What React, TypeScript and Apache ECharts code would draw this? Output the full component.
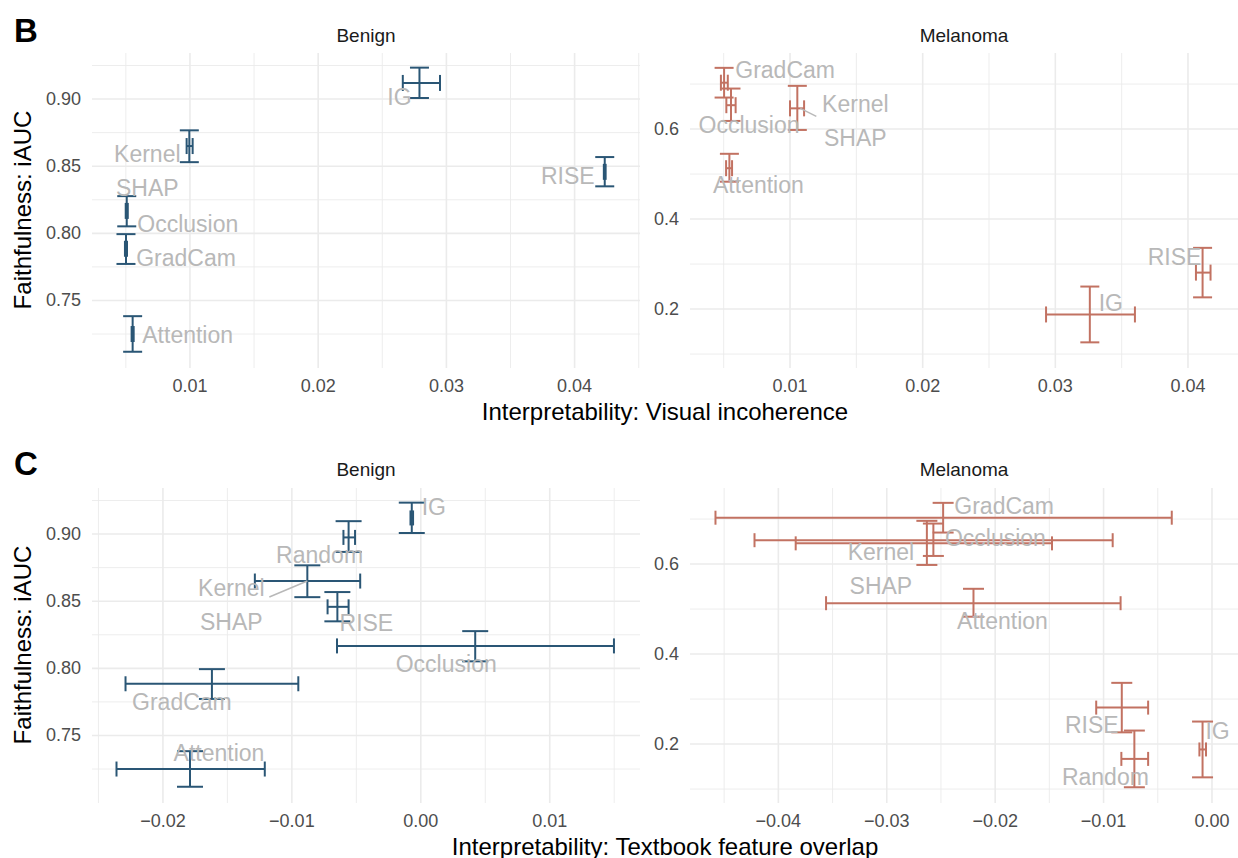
import React, { useEffect, useRef } from "react";
import * as echarts from "echarts";

const FONT = '"Liberation Sans", Arial, Helvetica, sans-serif';

const methods = ["Attention", "GradCam", "IG", "Kernel SHAP", "Occlusion", "RISE", "Random"];

// Faithfulness (iAUC): mean and interval bounds per class
const benignFaith = [0.725, 0.7885, 0.912, 0.865, 0.8167, 0.8458, 0.8975];
const benignFaithLo = [0.7118, 0.7772, 0.9008, 0.853, 0.8052, 0.835, 0.8867];
const benignFaithHi = [0.7383, 0.7994, 0.9234, 0.8767, 0.8277, 0.8568, 0.9096];
const melanomaFaith = [0.513, 0.703, 0.188, 0.646, 0.653, 0.281, 0.167];
const melanomaFaithLo = [0.483, 0.67, 0.126, 0.598, 0.618, 0.226, 0.104];
const melanomaFaithHi = [0.545, 0.736, 0.25, 0.696, 0.69, 0.336, 0.23];

// Interpretability: visual incoherence (not computed for Random)
const benignIncoh = [0.00553, 0.00501, 0.0279, 0.00995, 0.00507, 0.04235, null];
const benignIncohLo = [0.00545, 0.00493, 0.0266, 0.00974, 0.00499, 0.04228, null];
const benignIncohHi = [0.00561, 0.00509, 0.0295, 0.01021, 0.00515, 0.04242, null];
const melanomaIncoh = [0.00543, 0.00503, 0.0326, 0.01055, 0.00555, 0.0411, null];
const melanomaIncohLo = [0.00518, 0.00479, 0.0293, 0.01, 0.0052, 0.0406, null];
const melanomaIncohHi = [0.00563, 0.00531, 0.036, 0.01106, 0.0059, 0.0417, null];

// Interpretability: textbook feature overlap
const benignOverlap = [-0.0179, -0.0162, -0.0007, -0.0088, 0.00422, -0.00647, -0.0056];
const benignOverlapLo = [-0.0236, -0.0229, -0.0008, -0.01287, -0.0065, -0.00723, -0.006];
const benignOverlapHi = [-0.0121, -0.0095, -0.0006, -0.0047, 0.01498, -0.0056, -0.0051];
const melanomaOverlap = [-0.022, -0.0248, -0.00087, -0.0263, -0.0257, -0.00832, -0.00716];
const melanomaOverlapLo = [-0.0356, -0.0458, -0.00116, -0.0384, -0.0422, -0.01068, -0.00836];
const melanomaOverlapHi = [-0.00843, -0.00371, -0.00055, -0.01476, -0.00916, -0.00589, -0.00589];

// Axis ticks (labelled) and minor grid values
const incoherenceTicks = [0.01, 0.02, 0.03, 0.04];
const incoherenceMinor = [0.005, 0.015, 0.025, 0.035, 0.045];
const overlapBenignTicks = [-0.02, -0.01, 0, 0.01];
const overlapBenignMinor = [-0.025, -0.015, -0.005, 0.005, 0.015];
const overlapMelanomaTicks = [-0.04, -0.03, -0.02, -0.01, 0];
const overlapMelanomaMinor = [-0.045, -0.035, -0.025, -0.015, -0.005];
const benignFaithTicks = [0.75, 0.8, 0.85, 0.9];
const benignFaithMinor = [0.725, 0.775, 0.825, 0.875, 0.925];
const melanomaFaithTicks = [0.2, 0.4, 0.6];
const melanomaFaithMinor = [0.1, 0.3, 0.5, 0.7];

// Repelled label placement: pixel offset of the label centre from its point,
// plus an optional leader segment [dx1, dy1, dx2, dy2]
type LabelPlace = { dx: number; dy: number; seg?: number[] };
const incohBenignLabels: Record<string, LabelPlace> = {
  IG: { dx: -20, dy: 14 },
  "Kernel SHAP": { dx: -42, dy: 25 },
  RISE: { dx: -37, dy: 4 },
  Occlusion: { dx: 61, dy: 13 },
  GradCam: { dx: 60, dy: 9 },
  Attention: { dx: 55, dy: 1 },
};
const incohMelanomaLabels: Record<string, LabelPlace> = {
  GradCam: { dx: 61, dy: -13 },
  Occlusion: { dx: 18, dy: 20 },
  "Kernel SHAP": { dx: 58, dy: 13, seg: [3, 0, 19, 8] },
  Attention: { dx: 29, dy: 17 },
  IG: { dx: 21, dy: -11 },
  RISE: { dx: -28, dy: -16 },
};
const overlapBenignLabels: Record<string, LabelPlace> = {
  IG: { dx: 22, dy: -11 },
  Random: { dx: -29, dy: 18 },
  "Kernel SHAP": { dx: -76, dy: 24, seg: [0, 0, -38, 16] },
  RISE: { dx: 29, dy: 16 },
  Occlusion: { dx: -29, dy: 18 },
  GradCam: { dx: -30, dy: 18 },
  Attention: { dx: 29, dy: -16 },
};
const overlapMelanomaLabels: Record<string, LabelPlace> = {
  GradCam: { dx: 61, dy: -12 },
  Occlusion: { dx: 62, dy: -2 },
  "Kernel SHAP": { dx: -46, dy: 26 },
  Attention: { dx: 29, dy: 18 },
  RISE: { dx: -30, dy: 17 },
  Random: { dx: -29, dy: 18 },
  IG: { dx: 15, dy: -18 },
};

const BENIGN = "#2A5675";
const MELANOMA = "#C27262";
const LABEL_GREY = "#B8B8B8";
const GRID = "#EBEBEB";

const PANEL_W = 548;
const PANEL_H = 315;

type Panel = {
  left: number;
  top: number;
  xLim: number[];
  yLim: number[];
  xTicks: number[];
  xMinor: number[];
  yTicks: number[];
  yMinor: number[];
  xDigits: number;
  yDigits: number;
  x: (number | null)[];
  xLo: (number | null)[];
  xHi: (number | null)[];
  y: number[];
  yLo: number[];
  yHi: number[];
  color: string;
  labels: Record<string, LabelPlace>;
  capW: number;
  capH: number;
};

const panels: Panel[] = [
  {
    left: 92, top: 53, xLim: [0.00236, 0.0451], yLim: [0.6997, 0.9343],
    xTicks: incoherenceTicks, xMinor: incoherenceMinor, yTicks: benignFaithTicks, yMinor: benignFaithMinor,
    xDigits: 2, yDigits: 2,
    x: benignIncoh, xLo: benignIncohLo, xHi: benignIncohHi,
    y: benignFaith, yLo: benignFaithLo, yHi: benignFaithHi,
    color: BENIGN, labels: incohBenignLabels, capW: 19, capH: 16,
  },
  {
    left: 690, top: 53, xLim: [0.00246, 0.04377], yLim: [0.069, 0.769],
    xTicks: incoherenceTicks, xMinor: incoherenceMinor, yTicks: melanomaFaithTicks, yMinor: melanomaFaithMinor,
    xDigits: 2, yDigits: 1,
    x: melanomaIncoh, xLo: melanomaIncohLo, xHi: melanomaIncohHi,
    y: melanomaFaith, yLo: melanomaFaithLo, yHi: melanomaFaithHi,
    color: MELANOMA, labels: incohMelanomaLabels, capW: 19, capH: 16,
  },
  {
    left: 92, top: 488, xLim: [-0.0255, 0.017], yLim: [0.6997, 0.9343],
    xTicks: overlapBenignTicks, xMinor: overlapBenignMinor, yTicks: benignFaithTicks, yMinor: benignFaithMinor,
    xDigits: 2, yDigits: 2,
    x: benignOverlap, xLo: benignOverlapLo, xHi: benignOverlapHi,
    y: benignFaith, yLo: benignFaithLo, yHi: benignFaithHi,
    color: BENIGN, labels: overlapBenignLabels, capW: 26, capH: 15,
  },
  {
    left: 690, top: 488, xLim: [-0.04815, 0.0024], yLim: [0.069, 0.769],
    xTicks: overlapMelanomaTicks, xMinor: overlapMelanomaMinor, yTicks: melanomaFaithTicks, yMinor: melanomaFaithMinor,
    xDigits: 2, yDigits: 1,
    x: melanomaOverlap, xLo: melanomaOverlapLo, xHi: melanomaOverlapHi,
    y: melanomaFaith, yLo: melanomaFaithLo, yHi: melanomaFaithHi,
    color: MELANOMA, labels: overlapMelanomaLabels, capW: 21, capH: 14,
  },
];

function fmt(v: number, digits: number): string {
  const s = Math.abs(v).toFixed(digits);
  return v < -1e-12 ? "\u2212" + s : s;
}

function buildOption() {
  const grid: any[] = [];
  const xAxis: any[] = [];
  const yAxis: any[] = [];
  const series: any[] = [];

  panels.forEach((p, i) => {
    grid.push({ left: p.left, top: p.top, width: PANEL_W, height: PANEL_H });
    const labelStyle = { color: "#4D4D4D", fontSize: 18, fontFamily: FONT };
    xAxis.push({
      type: "value", gridIndex: i, min: p.xLim[0], max: p.xLim[1],
      axisLine: { show: false }, axisTick: { show: false }, splitLine: { show: false },
      axisLabel: { ...labelStyle, margin: 9, customValues: p.xTicks, formatter: (v: number) => fmt(v, p.xDigits) },
    });
    yAxis.push({
      type: "value", gridIndex: i, min: p.yLim[0], max: p.yLim[1],
      axisLine: { show: false }, axisTick: { show: false }, splitLine: { show: false },
      axisLabel: { ...labelStyle, margin: 11, customValues: p.yTicks, formatter: (v: number) => fmt(v, p.yDigits) },
    });

    // background grid lines
    const lines: { dir: string; v: number; major: boolean }[] = [];
    const inX = (v: number) => v >= p.xLim[0] && v <= p.xLim[1];
    const inY = (v: number) => v >= p.yLim[0] && v <= p.yLim[1];
    p.xMinor.filter(inX).forEach((v) => lines.push({ dir: "x", v, major: false }));
    p.yMinor.filter(inY).forEach((v) => lines.push({ dir: "y", v, major: false }));
    p.xTicks.filter(inX).forEach((v) => lines.push({ dir: "x", v, major: true }));
    p.yTicks.filter(inY).forEach((v) => lines.push({ dir: "y", v, major: true }));
    series.push({
      type: "custom", xAxisIndex: i, yAxisIndex: i, z: 1, silent: true,
      data: lines.map(() => [p.xLim[0], p.yLim[0]]),
      renderItem: (params: any, api: any) => {
        const g = lines[params.dataIndex];
        const cs = params.coordSys;
        const style = { stroke: GRID, lineWidth: g.major ? 1.6 : 0.9 };
        if (g.dir === "x") {
          const px = api.coord([g.v, p.yLim[0]])[0];
          return { type: "line", shape: { x1: px, y1: cs.y, x2: px, y2: cs.y + cs.height }, style };
        }
        const py = api.coord([p.xLim[0], g.v])[1];
        return { type: "line", shape: { x1: cs.x, y1: py, x2: cs.x + cs.width, y2: py }, style };
      },
    });

    // points with both interval bars
    const pts: number[][] = [];
    methods.forEach((m, k) => {
      const x = p.x[k];
      if (x === null || x === undefined) return;
      pts.push([x, p.y[k], p.xLo[k] as number, p.xHi[k] as number, p.yLo[k], p.yHi[k], k]);
    });
    series.push({
      type: "custom", xAxisIndex: i, yAxisIndex: i, z: 2, silent: true,
      data: pts,
      renderItem: (params: any, api: any) => {
        const x = api.value(0), y = api.value(1);
        const c = api.coord([x, y]);
        const l = api.coord([api.value(2), y]);
        const r = api.coord([api.value(3), y]);
        const b = api.coord([x, api.value(4)]);
        const t = api.coord([x, api.value(5)]);
        const st = { stroke: p.color, lineWidth: 2 };
        const hw = p.capW / 2, hh = p.capH / 2;
        const seg = (x1: number, y1: number, x2: number, y2: number) => ({
          type: "line", shape: { x1, y1, x2, y2 }, style: st,
        });
        return {
          type: "group",
          children: [
            seg(l[0], c[1], r[0], c[1]),
            seg(l[0], c[1] - hh, l[0], c[1] + hh),
            seg(r[0], c[1] - hh, r[0], c[1] + hh),
            seg(c[0], t[1], c[0], b[1]),
            seg(c[0] - hw, t[1], c[0] + hw, t[1]),
            seg(c[0] - hw, b[1], c[0] + hw, b[1]),
          ],
        };
      },
    });

    // method labels
    series.push({
      type: "custom", xAxisIndex: i, yAxisIndex: i, z: 3, silent: true,
      data: pts,
      renderItem: (params: any, api: any) => {
        const c = api.coord([api.value(0), api.value(1)]);
        const name = methods[api.value(6)];
        const place = p.labels[name] || { dx: 0, dy: 0 };
        const children: any[] = [];
        if (place.seg) {
          const s = place.seg;
          children.push({
            type: "line",
            shape: { x1: c[0] + s[0], y1: c[1] + s[1], x2: c[0] + s[2], y2: c[1] + s[3] },
            style: { stroke: LABEL_GREY, lineWidth: 1.5 },
          });
        }
        children.push({
          type: "text",
          x: c[0] + place.dx,
          y: c[1] + place.dy,
          style: {
            text: name.replace(" ", "\n"),
            fill: LABEL_GREY,
            fontSize: 23,
            fontFamily: FONT,
            align: "center",
            verticalAlign: "middle",
            lineHeight: 34,
          },
        });
        return { type: "group", children };
      },
    });
  });

  const txt = (x: number, y: number, text: string, extra: any = {}, rotation = 0) => ({
    type: "text", x, y, rotation, silent: true,
    style: { text, fontFamily: FONT, align: "center", verticalAlign: "middle", ...extra },
  });

  const graphic = [
    txt(26, 30, "B", { fontSize: 33, fontWeight: "bold", fill: "#000" }),
    txt(26, 463, "C", { fontSize: 33, fontWeight: "bold", fill: "#000" }),
    txt(366, 35, "Benign", { fontSize: 19, fill: "#1A1A1A" }),
    txt(964, 35, "Melanoma", { fontSize: 19, fill: "#1A1A1A" }),
    txt(366, 469, "Benign", { fontSize: 19, fill: "#1A1A1A" }),
    txt(964, 469, "Melanoma", { fontSize: 19, fill: "#1A1A1A" }),
    txt(665, 411, "Interpretability: Visual incoherence", { fontSize: 24, fill: "#000" }),
    txt(665, 846, "Interpretability: Textbook feature overlap", { fontSize: 24, fill: "#000" }),
    txt(22, 210, "Faithfulness: iAUC", { fontSize: 24, fill: "#000" }, Math.PI / 2),
    txt(22, 645, "Faithfulness: iAUC", { fontSize: 24, fill: "#000" }, Math.PI / 2),
  ];

  return {
    animation: false,
    backgroundColor: "#ffffff",
    grid,
    xAxis,
    yAxis,
    series,
    graphic,
  };
}

export default function App() {
  const ref = useRef<HTMLDivElement>(null);
  useEffect(() => {
    if (!ref.current) return;
    const chart = echarts.init(ref.current, null, { renderer: "svg" });
    chart.setOption(buildOption() as any);
    return () => chart.dispose();
  }, []);
  return (
    <div
      ref={ref}
      style={{ position: "fixed", left: 0, top: 0, width: 1238, height: 858, background: "#fff" }}
    />
  );
}
